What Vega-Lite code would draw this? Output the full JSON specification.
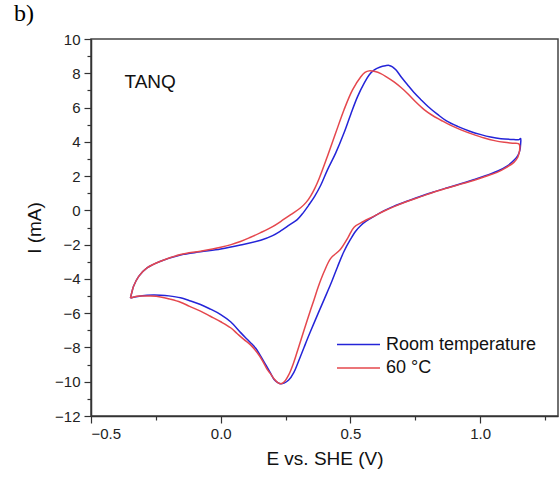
{
  "$schema": "https://vega.github.io/schema/vega-lite/v6.json",
  "width": 467,
  "height": 377,
  "autosize": {"type": "none"},
  "padding": {"left": 91, "top": 39, "right": 1, "bottom": 68},
  "background": "white",
  "title": {
    "text": "b)",
    "font": "Liberation Serif",
    "fontSize": 24,
    "fontWeight": "normal",
    "color": "#000000",
    "anchor": "start",
    "frame": "group",
    "dx": -77,
    "offset": 6
  },
  "config": {
    "view": {"stroke": "#444444", "strokeWidth": 1.5},
    "axis": {
      "grid": false,
      "labelOverlap": false,
      "labelBound": false,
      "domainColor": "#333333",
      "domainWidth": 1.5,
      "tickColor": "#333333",
      "tickWidth": 1.2,
      "labelFont": "Liberation Sans",
      "labelFontSize": 15,
      "labelColor": "#222222",
      "titleFont": "Liberation Sans",
      "titleFontSize": 19,
      "titleFontWeight": "normal",
      "titleColor": "#111111"
    }
  },
  "datasets": {
    "cv": [
      {"series": "Room temperature", "step": 1, "E": -0.348, "I": -5.12},
      {"series": "Room temperature", "step": 2, "E": -0.342, "I": -4.75},
      {"series": "Room temperature", "step": 3, "E": -0.336, "I": -4.43},
      {"series": "Room temperature", "step": 4, "E": -0.316, "I": -3.85},
      {"series": "Room temperature", "step": 5, "E": -0.284, "I": -3.36},
      {"series": "Room temperature", "step": 6, "E": -0.232, "I": -2.97},
      {"series": "Room temperature", "step": 7, "E": -0.155, "I": -2.6},
      {"series": "Room temperature", "step": 8, "E": -0.078, "I": -2.42},
      {"series": "Room temperature", "step": 9, "E": 0.0, "I": -2.25},
      {"series": "Room temperature", "step": 10, "E": 0.076, "I": -2.02},
      {"series": "Room temperature", "step": 11, "E": 0.154, "I": -1.74},
      {"series": "Room temperature", "step": 12, "E": 0.2, "I": -1.47},
      {"series": "Room temperature", "step": 13, "E": 0.231, "I": -1.2},
      {"series": "Room temperature", "step": 14, "E": 0.265, "I": -0.85},
      {"series": "Room temperature", "step": 15, "E": 0.295, "I": -0.54},
      {"series": "Room temperature", "step": 16, "E": 0.315, "I": -0.2},
      {"series": "Room temperature", "step": 17, "E": 0.338, "I": 0.28},
      {"series": "Room temperature", "step": 18, "E": 0.362, "I": 0.82},
      {"series": "Room temperature", "step": 19, "E": 0.385, "I": 1.45},
      {"series": "Room temperature", "step": 20, "E": 0.411, "I": 2.35},
      {"series": "Room temperature", "step": 21, "E": 0.443, "I": 3.34},
      {"series": "Room temperature", "step": 22, "E": 0.475, "I": 4.51},
      {"series": "Room temperature", "step": 23, "E": 0.501, "I": 5.6},
      {"series": "Room temperature", "step": 24, "E": 0.527, "I": 6.62},
      {"series": "Room temperature", "step": 25, "E": 0.553, "I": 7.42},
      {"series": "Room temperature", "step": 26, "E": 0.572, "I": 7.9},
      {"series": "Room temperature", "step": 27, "E": 0.592, "I": 8.2},
      {"series": "Room temperature", "step": 28, "E": 0.615, "I": 8.37},
      {"series": "Room temperature", "step": 29, "E": 0.635, "I": 8.44},
      {"series": "Room temperature", "step": 30, "E": 0.649, "I": 8.46},
      {"series": "Room temperature", "step": 31, "E": 0.662, "I": 8.38},
      {"series": "Room temperature", "step": 32, "E": 0.675, "I": 8.2},
      {"series": "Room temperature", "step": 33, "E": 0.695, "I": 7.8},
      {"series": "Room temperature", "step": 34, "E": 0.72, "I": 7.33},
      {"series": "Room temperature", "step": 35, "E": 0.745, "I": 6.88},
      {"series": "Room temperature", "step": 36, "E": 0.772, "I": 6.46},
      {"series": "Room temperature", "step": 37, "E": 0.8, "I": 6.05},
      {"series": "Room temperature", "step": 38, "E": 0.836, "I": 5.6},
      {"series": "Room temperature", "step": 39, "E": 0.87, "I": 5.22},
      {"series": "Room temperature", "step": 40, "E": 0.913, "I": 4.9},
      {"series": "Room temperature", "step": 41, "E": 0.96, "I": 4.62},
      {"series": "Room temperature", "step": 42, "E": 1.003, "I": 4.42},
      {"series": "Room temperature", "step": 43, "E": 1.04, "I": 4.28},
      {"series": "Room temperature", "step": 44, "E": 1.08, "I": 4.18},
      {"series": "Room temperature", "step": 45, "E": 1.12, "I": 4.14},
      {"series": "Room temperature", "step": 46, "E": 1.15, "I": 4.13},
      {"series": "Room temperature", "step": 47, "E": 1.156, "I": 4.2},
      {"series": "Room temperature", "step": 48, "E": 1.156, "I": 3.9},
      {"series": "Room temperature", "step": 49, "E": 1.153, "I": 3.5},
      {"series": "Room temperature", "step": 50, "E": 1.145, "I": 3.2},
      {"series": "Room temperature", "step": 51, "E": 1.132, "I": 2.95},
      {"series": "Room temperature", "step": 52, "E": 1.105, "I": 2.6},
      {"series": "Room temperature", "step": 53, "E": 1.068, "I": 2.3},
      {"series": "Room temperature", "step": 54, "E": 1.02, "I": 2.02},
      {"series": "Room temperature", "step": 55, "E": 0.977, "I": 1.8},
      {"series": "Room temperature", "step": 56, "E": 0.925, "I": 1.55},
      {"series": "Room temperature", "step": 57, "E": 0.874, "I": 1.32},
      {"series": "Room temperature", "step": 58, "E": 0.82, "I": 1.07},
      {"series": "Room temperature", "step": 59, "E": 0.771, "I": 0.82},
      {"series": "Room temperature", "step": 60, "E": 0.72, "I": 0.55},
      {"series": "Room temperature", "step": 61, "E": 0.668, "I": 0.25},
      {"series": "Room temperature", "step": 62, "E": 0.63, "I": -0.02},
      {"series": "Room temperature", "step": 63, "E": 0.591, "I": -0.35},
      {"series": "Room temperature", "step": 64, "E": 0.562, "I": -0.62},
      {"series": "Room temperature", "step": 65, "E": 0.54, "I": -0.88},
      {"series": "Room temperature", "step": 66, "E": 0.52, "I": -1.22},
      {"series": "Room temperature", "step": 67, "E": 0.5, "I": -1.7},
      {"series": "Room temperature", "step": 68, "E": 0.475, "I": -2.4},
      {"series": "Room temperature", "step": 69, "E": 0.45, "I": -3.3},
      {"series": "Room temperature", "step": 70, "E": 0.424, "I": -4.3},
      {"series": "Room temperature", "step": 71, "E": 0.4, "I": -5.15},
      {"series": "Room temperature", "step": 72, "E": 0.373, "I": -6.1},
      {"series": "Room temperature", "step": 73, "E": 0.345, "I": -7.1},
      {"series": "Room temperature", "step": 74, "E": 0.321, "I": -8.0},
      {"series": "Room temperature", "step": 75, "E": 0.3, "I": -8.8},
      {"series": "Room temperature", "step": 76, "E": 0.282, "I": -9.45},
      {"series": "Room temperature", "step": 77, "E": 0.262, "I": -9.9},
      {"series": "Room temperature", "step": 78, "E": 0.244, "I": -10.08},
      {"series": "Room temperature", "step": 79, "E": 0.232, "I": -10.12},
      {"series": "Room temperature", "step": 80, "E": 0.22, "I": -10.05},
      {"series": "Room temperature", "step": 81, "E": 0.205, "I": -9.85},
      {"series": "Room temperature", "step": 82, "E": 0.192, "I": -9.5},
      {"series": "Room temperature", "step": 83, "E": 0.175, "I": -9.05},
      {"series": "Room temperature", "step": 84, "E": 0.154, "I": -8.5},
      {"series": "Room temperature", "step": 85, "E": 0.135, "I": -8.05},
      {"series": "Room temperature", "step": 86, "E": 0.115, "I": -7.72},
      {"series": "Room temperature", "step": 87, "E": 0.095, "I": -7.42},
      {"series": "Room temperature", "step": 88, "E": 0.076, "I": -7.12},
      {"series": "Room temperature", "step": 89, "E": 0.038, "I": -6.5},
      {"series": "Room temperature", "step": 90, "E": 0.0, "I": -6.08},
      {"series": "Room temperature", "step": 91, "E": -0.04, "I": -5.76},
      {"series": "Room temperature", "step": 92, "E": -0.078, "I": -5.49},
      {"series": "Room temperature", "step": 93, "E": -0.12, "I": -5.27},
      {"series": "Room temperature", "step": 94, "E": -0.155, "I": -5.1},
      {"series": "Room temperature", "step": 95, "E": -0.2, "I": -4.99},
      {"series": "Room temperature", "step": 96, "E": -0.232, "I": -4.95},
      {"series": "Room temperature", "step": 97, "E": -0.26, "I": -4.94},
      {"series": "Room temperature", "step": 98, "E": -0.284, "I": -4.96},
      {"series": "Room temperature", "step": 99, "E": -0.32, "I": -5.03},
      {"series": "Room temperature", "step": 100, "E": -0.348, "I": -5.12},

      {"series": "60 °C", "step": 1, "E": -0.348, "I": -5.12},
      {"series": "60 °C", "step": 2, "E": -0.342, "I": -4.75},
      {"series": "60 °C", "step": 3, "E": -0.336, "I": -4.43},
      {"series": "60 °C", "step": 4, "E": -0.316, "I": -3.85},
      {"series": "60 °C", "step": 5, "E": -0.284, "I": -3.36},
      {"series": "60 °C", "step": 6, "E": -0.232, "I": -2.97},
      {"series": "60 °C", "step": 7, "E": -0.155, "I": -2.58},
      {"series": "60 °C", "step": 8, "E": -0.078, "I": -2.38},
      {"series": "60 °C", "step": 9, "E": 0.0, "I": -2.15},
      {"series": "60 °C", "step": 10, "E": 0.04, "I": -2.0},
      {"series": "60 °C", "step": 11, "E": 0.076, "I": -1.82},
      {"series": "60 °C", "step": 12, "E": 0.115, "I": -1.57},
      {"series": "60 °C", "step": 13, "E": 0.154, "I": -1.3},
      {"series": "60 °C", "step": 14, "E": 0.2, "I": -0.95},
      {"series": "60 °C", "step": 15, "E": 0.231, "I": -0.65},
      {"series": "60 °C", "step": 16, "E": 0.27, "I": -0.25},
      {"series": "60 °C", "step": 17, "E": 0.308, "I": 0.15},
      {"series": "60 °C", "step": 18, "E": 0.33, "I": 0.48},
      {"series": "60 °C", "step": 19, "E": 0.347, "I": 0.85},
      {"series": "60 °C", "step": 20, "E": 0.363, "I": 1.3},
      {"series": "60 °C", "step": 21, "E": 0.379, "I": 1.85},
      {"series": "60 °C", "step": 22, "E": 0.411, "I": 3.15},
      {"series": "60 °C", "step": 23, "E": 0.443, "I": 4.51},
      {"series": "60 °C", "step": 24, "E": 0.475, "I": 5.86},
      {"series": "60 °C", "step": 25, "E": 0.508, "I": 7.03},
      {"series": "60 °C", "step": 26, "E": 0.54, "I": 7.8},
      {"series": "60 °C", "step": 27, "E": 0.556, "I": 8.05},
      {"series": "60 °C", "step": 28, "E": 0.572, "I": 8.14},
      {"series": "60 °C", "step": 29, "E": 0.595, "I": 8.1},
      {"series": "60 °C", "step": 30, "E": 0.617, "I": 7.98},
      {"series": "60 °C", "step": 31, "E": 0.64, "I": 7.78},
      {"series": "60 °C", "step": 32, "E": 0.668, "I": 7.5},
      {"series": "60 °C", "step": 33, "E": 0.695, "I": 7.17},
      {"series": "60 °C", "step": 34, "E": 0.72, "I": 6.82},
      {"series": "60 °C", "step": 35, "E": 0.75, "I": 6.35},
      {"series": "60 °C", "step": 36, "E": 0.784, "I": 5.88},
      {"series": "60 °C", "step": 37, "E": 0.815, "I": 5.55},
      {"series": "60 °C", "step": 38, "E": 0.849, "I": 5.26},
      {"series": "60 °C", "step": 39, "E": 0.885, "I": 4.97},
      {"series": "60 °C", "step": 40, "E": 0.926, "I": 4.7},
      {"series": "60 °C", "step": 41, "E": 0.97, "I": 4.45},
      {"series": "60 °C", "step": 42, "E": 1.016, "I": 4.22},
      {"series": "60 °C", "step": 43, "E": 1.055, "I": 4.07},
      {"series": "60 °C", "step": 44, "E": 1.093, "I": 3.97},
      {"series": "60 °C", "step": 45, "E": 1.125, "I": 3.92},
      {"series": "60 °C", "step": 46, "E": 1.148, "I": 3.9},
      {"series": "60 °C", "step": 47, "E": 1.152, "I": 3.8},
      {"series": "60 °C", "step": 48, "E": 1.152, "I": 3.5},
      {"series": "60 °C", "step": 49, "E": 1.145, "I": 3.1},
      {"series": "60 °C", "step": 50, "E": 1.13, "I": 2.8},
      {"series": "60 °C", "step": 51, "E": 1.1, "I": 2.5},
      {"series": "60 °C", "step": 52, "E": 1.065, "I": 2.22},
      {"series": "60 °C", "step": 53, "E": 1.02, "I": 1.98},
      {"series": "60 °C", "step": 54, "E": 0.977, "I": 1.76},
      {"series": "60 °C", "step": 55, "E": 0.925, "I": 1.53},
      {"series": "60 °C", "step": 56, "E": 0.874, "I": 1.3},
      {"series": "60 °C", "step": 57, "E": 0.82, "I": 1.06},
      {"series": "60 °C", "step": 58, "E": 0.771, "I": 0.8},
      {"series": "60 °C", "step": 59, "E": 0.72, "I": 0.53},
      {"series": "60 °C", "step": 60, "E": 0.668, "I": 0.22},
      {"series": "60 °C", "step": 61, "E": 0.63, "I": -0.04},
      {"series": "60 °C", "step": 62, "E": 0.59, "I": -0.35},
      {"series": "60 °C", "step": 63, "E": 0.55, "I": -0.65},
      {"series": "60 °C", "step": 64, "E": 0.514, "I": -0.98},
      {"series": "60 °C", "step": 65, "E": 0.49, "I": -1.6},
      {"series": "60 °C", "step": 66, "E": 0.46, "I": -2.3},
      {"series": "60 °C", "step": 67, "E": 0.424, "I": -2.8},
      {"series": "60 °C", "step": 68, "E": 0.398, "I": -3.6},
      {"series": "60 °C", "step": 69, "E": 0.375, "I": -4.5},
      {"series": "60 °C", "step": 70, "E": 0.36, "I": -5.2},
      {"series": "60 °C", "step": 71, "E": 0.34, "I": -6.1},
      {"series": "60 °C", "step": 72, "E": 0.321, "I": -7.0},
      {"series": "60 °C", "step": 73, "E": 0.3, "I": -8.0},
      {"series": "60 °C", "step": 74, "E": 0.282, "I": -8.85},
      {"series": "60 °C", "step": 75, "E": 0.262, "I": -9.6},
      {"series": "60 °C", "step": 76, "E": 0.244, "I": -10.02},
      {"series": "60 °C", "step": 77, "E": 0.232, "I": -10.12},
      {"series": "60 °C", "step": 78, "E": 0.22, "I": -10.05},
      {"series": "60 °C", "step": 79, "E": 0.205, "I": -9.82},
      {"series": "60 °C", "step": 80, "E": 0.19, "I": -9.5},
      {"series": "60 °C", "step": 81, "E": 0.179, "I": -9.28},
      {"series": "60 °C", "step": 82, "E": 0.16, "I": -8.75},
      {"series": "60 °C", "step": 83, "E": 0.141, "I": -8.31},
      {"series": "60 °C", "step": 84, "E": 0.115, "I": -7.85},
      {"series": "60 °C", "step": 85, "E": 0.089, "I": -7.53},
      {"series": "60 °C", "step": 86, "E": 0.064, "I": -7.2},
      {"series": "60 °C", "step": 87, "E": 0.038, "I": -6.85},
      {"series": "60 °C", "step": 88, "E": 0.0, "I": -6.5},
      {"series": "60 °C", "step": 89, "E": -0.04, "I": -6.18},
      {"series": "60 °C", "step": 90, "E": -0.078, "I": -5.88},
      {"series": "60 °C", "step": 91, "E": -0.12, "I": -5.6},
      {"series": "60 °C", "step": 92, "E": -0.155, "I": -5.36},
      {"series": "60 °C", "step": 93, "E": -0.195, "I": -5.18},
      {"series": "60 °C", "step": 94, "E": -0.232, "I": -5.05},
      {"series": "60 °C", "step": 95, "E": -0.27, "I": -5.0},
      {"series": "60 °C", "step": 96, "E": -0.31, "I": -5.0},
      {"series": "60 °C", "step": 97, "E": -0.335, "I": -5.05},
      {"series": "60 °C", "step": 98, "E": -0.348, "I": -5.12}
    ],
    "notes": [
      {"label": "TANQ", "E": -0.371, "I": 7.47}
    ]
  },
  "encoding": {
    "x": {
      "field": "E",
      "type": "quantitative",
      "scale": {"domain": [-0.5, 1.3], "nice": false, "zero": false},
      "axis": {
        "title": "E vs. SHE (V)",
        "values": [-0.5, -0.25, 0, 0.25, 0.5, 0.75, 1, 1.25],
        "format": ".1f",
        "labelOverlap": false,
        "labelExpr": "abs(datum.value * 2 - round(datum.value * 2)) < 0.001 ? datum.label : ''",
        "tickSize": {"condition": {"test": "abs(datum.value * 2 - round(datum.value * 2)) < 0.001", "value": 7}, "value": 4},
        "labelPadding": 3,
        "titlePadding": 8
      }
    },
    "y": {
      "field": "I",
      "type": "quantitative",
      "scale": {"domain": [-12, 10], "nice": false, "zero": false},
      "axis": {
        "title": "I (mA)",
        "values": [-12, -11, -10, -9, -8, -7, -6, -5, -4, -3, -2, -1, 0, 1, 2, 3, 4, 5, 6, 7, 8, 9, 10],
        "format": "d",
        "labelOverlap": false,
        "labelExpr": "abs(datum.value) % 2 == 0 ? datum.label : ''",
        "tickSize": {"condition": {"test": "abs(datum.value) % 2 == 0", "value": 7}, "value": 4},
        "labelPadding": 4,
        "titlePadding": 10
      }
    }
  },
  "layer": [
    {
      "data": {"name": "cv"},
      "mark": {"type": "line", "strokeWidth": 1.5, "interpolate": "catmull-rom", "clip": true},
      "encoding": {
        "order": {"field": "step", "type": "quantitative"},
        "color": {
          "field": "series",
          "type": "nominal",
          "scale": {"domain": ["Room temperature", "60 °C"], "range": ["#2424d8", "#e5474d"]},
          "legend": {
            "title": null,
            "orient": "none",
            "legendX": 245,
            "legendY": 294,
            "padding": 0,
            "symbolType": "stroke",
            "symbolSize": 1849,
            "symbolStrokeWidth": 1.5,
            "clipHeight": 23,
            "rowPadding": 0.5,
            "labelOffset": 5,
            "labelFont": "Liberation Sans",
            "labelFontSize": 18,
            "labelColor": "#111111"
          }
        }
      }
    },
    {
      "data": {"name": "notes"},
      "mark": {"type": "text", "align": "left", "baseline": "middle", "font": "Liberation Sans", "fontSize": 19, "color": "#111111"},
      "encoding": {
        "text": {"field": "label"}
      }
    }
  ]
}
